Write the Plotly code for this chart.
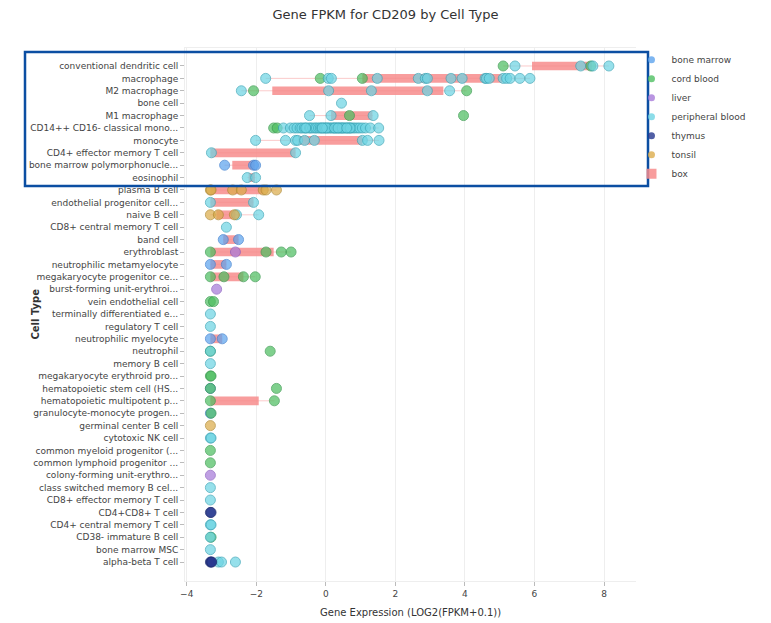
import plotly.graph_objects as go

# ---------------- data ----------------
cell_types = [
    "conventional dendritic cell", "macrophage", "M2 macrophage", "bone cell",
    "M1 macrophage", "CD14++ CD16- classical mono...", "monocyte",
    "CD4+ effector memory T cell", "bone marrow polymorphonucle...", "eosinophil",
    "plasma B cell", "endothelial progenitor cell...", "naive B cell",
    "CD8+ central memory T cell", "band cell", "erythroblast",
    "neutrophilic metamyelocyte", "megakaryocyte progenitor ce...",
    "burst-forming unit-erythroi...", "vein endothelial cell",
    "terminally differentiated e...", "regulatory T cell", "neutrophilic myelocyte",
    "neutrophil", "memory B cell", "megakaryocyte erythroid pro...",
    "hematopoietic stem cell (HS...", "hematopoietic multipotent p...",
    "granulocyte-monocyte progen...", "germinal center B cell", "cytotoxic NK cell",
    "common myeloid progenitor (...", "common lymphoid progenitor ...",
    "colony-forming unit-erythro...", "class switched memory B cel...",
    "CD8+ effector memory T cell", "CD4+CD8+ T cell", "CD4+ central memory T cell",
    "CD38- immature B cell", "bone marrow MSC", "alpha-beta T cell",
]

box_q1 = [5.93, 1.05, -1.54, 0.45, 0.15, -0.5, -0.8, -3.32, -2.69, -2.22,
          -3.32, -3.32, -3.15, -2.86, -2.95, -3.32, -3.32, -3.32, -3.14, -3.32,
          -3.32, -3.32, -3.32, -3.32, -3.32, -3.32, -3.32, -3.32, -3.32, -3.32,
          -3.32, -3.32, -3.32, -3.32, -3.32, -3.32, -3.32, -3.32, -3.32, -3.32, -3.32]
box_q3 = [7.65, 5.07, 3.38, 0.45, 1.34, 0.9, 1.05, -0.87, -2.05, -2.04,
          -1.80, -2.08, -2.60, -2.86, -2.51, -1.50, -2.86, -2.37, -3.14, -3.32,
          -3.32, -3.32, -2.98, -3.32, -3.32, -3.32, -3.32, -1.93, -3.32, -3.32,
          -3.32, -3.32, -3.32, -3.32, -3.32, -3.32, -3.32, -3.32, -3.32, -3.32, -3.20]
whisker_lo = [5.10, -1.73, -2.43, 0.45, -0.47, -1.50, -2.02, -3.32, -2.91, -2.26,
              -3.32, -3.32, -3.32, -2.86, -2.95, -3.32, -3.32, -3.32, -3.14, -3.32,
              -3.32, -3.32, -3.32, -3.32, -3.32, -3.32, -3.32, -3.32, -3.32, -3.32,
              -3.32, -3.32, -3.32, -3.32, -3.32, -3.32, -3.32, -3.32, -3.32, -3.32, -3.32]
whisker_hi = [8.14, 5.87, 4.05, 0.45, 1.36, 1.52, 1.53, -0.87, -2.02, -2.02,
              -1.42, -2.08, -1.93, -2.86, -2.51, -1.00, -2.86, -2.03, -3.14, -3.32,
              -3.32, -3.32, -2.98, -3.32, -3.32, -3.32, -3.32, -1.48, -3.32, -3.32,
              -3.32, -3.32, -3.32, -3.32, -3.32, -3.32, -3.32, -3.32, -3.32, -3.32, -3.00]

# tissue samples: (cell type, log2(FPKM+0.1))
bone_marrow_cells = ["bone marrow polymorphonucle..."] * 3 + ["band cell"] * 2 + \
    ["neutrophilic metamyelocyte"] * 2 + ["neutrophilic myelocyte"] * 2 + \
    ["hematopoietic stem cell (HS...", "granulocyte-monocyte progen..."]
bone_marrow_vals = [-2.91, -2.08, -2.02, -2.95, -2.51, -3.32, -2.86, -3.32, -2.98, -3.32, -3.32]

cord_blood_cells = ["conventional dendritic cell"] * 2 + ["macrophage"] * 2 + \
    ["M2 macrophage"] * 2 + ["M1 macrophage"] * 2 + ["CD14++ CD16- classical mono..."] * 2 + \
    ["erythroblast"] * 4 + ["megakaryocyte progenitor ce..."] * 4 + \
    ["vein endothelial cell"] * 2 + ["neutrophil"] * 2 + \
    ["megakaryocyte erythroid pro..."] * 2 + ["hematopoietic stem cell (HS..."] * 2 + \
    ["hematopoietic multipotent p..."] * 2 + ["granulocyte-monocyte progen...",
    "common myeloid progenitor (...", "common lymphoid progenitor ...", "CD38- immature B cell"]
cord_blood_vals = [5.10, 7.62, -0.16, 1.05, -2.08, 4.05, 0.68, 3.96, -1.50, -1.40,
                   -3.32, -1.72, -1.28, -1.00, -3.32, -2.93, -2.37, -2.03,
                   -3.32, -3.23, -3.32, -1.60, -3.32, -3.30, -3.32, -1.42,
                   -3.32, -1.48, -3.30, -3.32, -3.32, -3.30]

liver_cells = ["erythroblast", "burst-forming unit-erythroi...", "colony-forming unit-erythro..."]
liver_vals = [-2.60, -3.14, -3.32]

cd14_vals = [-1.22, -1.02, -0.91, -0.83, -0.74, -0.69, -0.62, -0.55, -0.47, -0.44,
             -0.38, -0.31, -0.27, -0.21, -0.16, -0.12, -0.05, -0.02, 0.04, 0.09,
             0.13, 0.18, 0.22, 0.27, 0.31, 0.36, 0.41, 0.44, 0.50, 0.53, 0.58,
             0.63, 0.67, 0.72, 0.78, 0.84, 0.91, 0.97, 1.05, 1.14, 1.28, 1.52,
             -0.58, 0.02, 0.25, 0.47, 0.70, -0.10, 0.35, 0.60]
peripheral_blood_cells = ["conventional dendritic cell"] * 4 + ["macrophage"] * 17 + \
    ["M2 macrophage"] * 5 + ["bone cell"] + ["M1 macrophage"] * 3 + \
    ["CD14++ CD16- classical mono..."] * len(cd14_vals) + ["monocyte"] * 9 + \
    ["CD4+ effector memory T cell"] * 2 + ["eosinophil"] * 2 + \
    ["endothelial progenitor cell..."] * 2 + ["naive B cell"] * 2 + \
    ["CD8+ central memory T cell", "terminally differentiated e...", "regulatory T cell",
     "neutrophil", "memory B cell", "cytotoxic NK cell", "cytotoxic NK cell",
     "class switched memory B cel...", "CD8+ effector memory T cell",
     "CD4+ central memory T cell", "CD4+ central memory T cell",
     "CD38- immature B cell", "bone marrow MSC"] + ["alpha-beta T cell"] * 3
peripheral_blood_vals = [5.44, 7.33, 7.68, 8.14,
                         -1.73, 0.07, 0.16, 1.48, 2.66, 2.86, 2.92, 3.60, 3.92, 4.58,
                         4.62, 4.70, 5.10, 5.20, 5.30, 5.58, 5.87,
                         -2.43, 0.08, 1.31, 2.92, 3.56,
                         0.45,
                         -0.47, 0.15, 1.36] + cd14_vals + \
                        [-2.02, -1.16, -0.87, -0.81, -0.61, -0.33, 1.05, 1.20, 1.53,
                         -3.29, -0.87, -2.26, -2.02, -3.32, -2.08, -2.57, -1.93,
                         -2.86, -3.32, -3.32, -3.32, -3.32, -3.32, -3.30, -3.32, -3.32,
                         -3.32, -3.30, -3.32, -3.32, -3.09, -3.00, -2.60]

thymus_cells = ["CD4+CD8+ T cell"] * 2 + ["alpha-beta T cell"] * 3
thymus_vals = [-3.32, -3.30, -3.32, -3.30, -3.28]

tonsil_cells = ["plasma B cell"] * 7 + ["naive B cell"] * 3 + ["germinal center B cell"]
tonsil_vals = [-3.32, -3.30, -2.68, -2.43, -1.80, -1.72, -1.42, -3.32, -3.09, -2.63, -3.32]

tissues = [
    ("bone marrow", bone_marrow_cells, bone_marrow_vals, "#5ea4ee", "#3d7fd0"),
    ("cord blood", cord_blood_cells, cord_blood_vals, "#4fbf62", "#34994a"),
    ("liver", liver_cells, liver_vals, "#a77bd9", "#8a5cc0"),
    ("peripheral blood", peripheral_blood_cells, peripheral_blood_vals, "#6fd5e4", "#3aa6b8"),
    ("thymus", thymus_cells, thymus_vals, "#26378f", "#1a2870"),
    ("tonsil", tonsil_cells, tonsil_vals, "#dcac4c", "#b08a30"),
]
box_color = "rgba(247,140,140,0.85)"

# ---------------- figure ----------------
fig = go.Figure()

# whiskers
wx, wy = [], []
for c, lo, hi in zip(cell_types, whisker_lo, whisker_hi):
    wx += [lo, hi, None]
    wy += [c, c, None]
fig.add_trace(go.Scatter(x=wx, y=wy, mode="lines", showlegend=False, hoverinfo="skip",
                         legendgroup="box",
                         line=dict(color="rgba(247,140,140,0.45)", width=1)))

for name, cells, vals, col, lcol in tissues:
    fig.add_trace(go.Scatter(
        x=vals, y=cells, mode="markers", name=name, legendgroup=name, showlegend=False,
        marker=dict(size=10, color=col, opacity=0.72, line=dict(color=lcol, width=1)),
    ))
    # legend entry with a small symbol, same group
    fig.add_trace(go.Scatter(
        x=[None], y=[None], mode="markers", name=name, legendgroup=name,
        marker=dict(size=7, color=col, opacity=0.8, line=dict(width=0)),
    ))

fig.add_trace(go.Bar(
    x=[q3 - q1 for q1, q3 in zip(box_q1, box_q3)], base=box_q1, y=cell_types,
    orientation="h", name="box", width=0.7, legendgroup="box", showlegend=False,
    marker=dict(color=box_color, line=dict(width=0)),
))
fig.add_trace(go.Scatter(
    x=[None], y=[None], mode="markers", name="box", legendgroup="box",
    marker=dict(size=10, symbol="square", color=box_color, line=dict(width=0)),
))

fig.update_layout(
    width=771, height=623,
    margin=dict(l=185, r=135, t=48, b=42),
    paper_bgcolor="white", plot_bgcolor="white",
    font=dict(family="DejaVu Sans", size=9, color="#444"),
    title=dict(text="Gene FPKM for CD209 by Cell Type", x=0.5, xanchor="center",
               y=1 - 14 / 623, yanchor="middle",
               font=dict(family="DejaVu Sans", size=13, color="#333")),
    showlegend=True,
    legend=dict(x=0.99, y=1.005, xanchor="left", yanchor="top", tracegroupgap=0,
                font=dict(size=9, color="#444"), bgcolor="rgba(0,0,0,0)"),
    barmode="overlay",
    xaxis=dict(range=[-4.05, 8.92], dtick=2, tick0=0, showgrid=True, gridcolor="#eeeeee",
               zeroline=False, ticks="outside", ticklen=4, tickcolor="#bbb",
               showline=True, linecolor="#eeeeee", mirror=True,
               tickfont=dict(size=9, color="#444")),
    yaxis=dict(categoryorder="array", categoryarray=cell_types, type="category",
               range=[40 + 1.53, -1.45], showgrid=False, zeroline=False,
               ticks="outside", ticklen=4, tickcolor="#bbb",
               showline=True, linecolor="#eeeeee",
               tickfont=dict(size=9, color="#444")),
    annotations=[
        dict(text="Gene Expression (LOG2(FPKM+0.1))", xref="paper", yref="paper",
             x=0.5, y=(581 - 612) / 533, xanchor="center", yanchor="middle",
             showarrow=False, font=dict(size=10, color="#333")),
        dict(text="<b>Cell Type</b>", xref="paper", yref="paper",
             x=(35 - 185) / 451, y=0.5, xanchor="center", yanchor="middle",
             textangle=-90, showarrow=False, font=dict(size=10, color="#333")),
    ],
    shapes=[dict(type="rect", xref="paper", yref="paper",
                 x0=(25 - 185) / 451, x1=(648 - 185) / 451,
                 y0=(581 - 186) / 533, y1=(581 - 52) / 533,
                 line=dict(color="#0b4ea2", width=2.5), fillcolor="rgba(0,0,0,0)")],
)

fig.write_html("out.html", config={"displayModeBar": False},
               post_script="document.body.style.margin='0';document.body.style.padding='0';")
